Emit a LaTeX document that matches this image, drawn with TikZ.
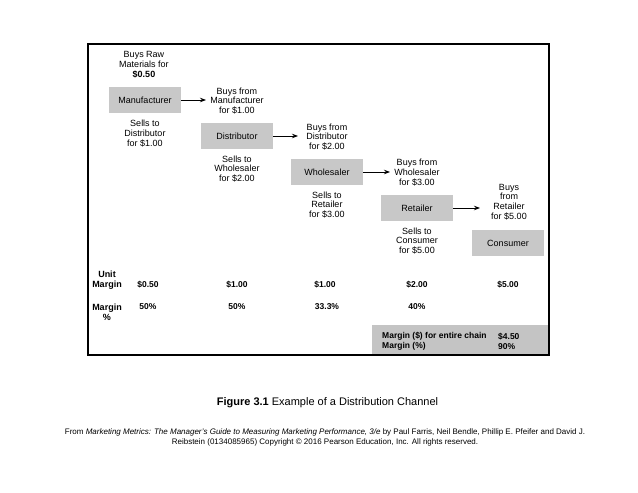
\documentclass[tikz,border=0pt]{standalone}
\usepackage{fontspec}
\setmainfont{Liberation Sans}
\usetikzlibrary{arrows.meta}

\definecolor{boxgray}{RGB}{200,200,200}
\definecolor{sumgray}{RGB}{196,196,196}
\tikzset{
chainbox/.style={rectangle,fill=boxgray,minimum width=72pt,minimum height=26pt,inner sep=0pt,font=\fontsize{9}{9.8}\selectfont},
note/.style={align=center,inner sep=0pt,font=\fontsize{9}{9.8}\selectfont},
rowlabel/.style={align=center,inner sep=0pt,font=\fontsize{9}{10}\selectfont\bfseries},
rowval/.style={inner sep=0pt,font=\fontsize{8.5}{10}\selectfont\bfseries},
flow/.style={-{Stealth[length=6pt,width=4.5pt]},line width=0.9pt}
}

\begin{document}
\begin{tikzpicture}[x=1pt,y=-1pt]
\useasboundingbox (0,0) rectangle (638,493);
% frame
\draw[line width=1.3pt] (88,44) rectangle (549,355);
\fill[sumgray] (372,325) rectangle (548.4,354.4);
% chain
\node[note](raw) at (144,65) {Buys Raw\\Materials for\\\textbf{\$0.50}};
\node[chainbox](mfr) at (145,100) {Manufacturer};
\node[note](sellmfr) at (145,133.5) {Sells to\\Distributor\\for \$1.00};
\node[note](buymfr) at (237,101) {Buys from\\Manufacturer\\for \$1.00};
\node[chainbox](dist) at (237,136) {Distributor};
\node[note](selldist) at (237,169) {Sells to\\Wholesaler\\for \$2.00};
\node[note](buydist) at (327,137) {Buys from\\Distributor\\for \$2.00};
\node[chainbox](whole) at (327,172) {Wholesaler};
\node[note](sellwhole) at (327,205) {Sells to\\Retailer\\for \$3.00};
\node[note](buywhole) at (417,172.5) {Buys from\\Wholesaler\\for \$3.00};
\node[chainbox](ret) at (417,208) {Retailer};
\node[note](sellret) at (417,241) {Sells to\\Consumer\\for \$5.00};
\node[note](buyret) at (509,202) {Buys\\from\\Retailer\\for \$5.00};
\node[chainbox](cons) at (508,243) {Consumer};
\coordinate (a1) at (206,100);
\coordinate (a2) at (298,136);
\coordinate (a3) at (390,172);
\coordinate (a4) at (480,208);
\draw[flow] (mfr)--(a1);
\draw[flow] (dist)--(a2);
\draw[flow] (whole)--(a3);
\draw[flow] (ret)--(a4);
% margins
\node[rowlabel](unit) at (107,280) {Unit\\Margin};
\node[rowval](u1) at (148,285) {\$0.50};
\node[rowval](u2) at (237,285) {\$1.00};
\node[rowval](u3) at (325,285) {\$1.00};
\node[rowval](u4) at (417,285) {\$2.00};
\node[rowval](u5) at (508,285) {\$5.00};
\node[rowlabel](pct) at (107,312) {Margin\\\%};
\node[rowval](p1) at (148,307) {50\%};
\node[rowval](p2) at (237,307) {50\%};
\node[rowval](p3) at (327,307) {33.3\%};
\node[rowval](p4) at (417,307) {40\%};
\node[rowval,align=left,anchor=west](tot) at (382,341) {Margin (\$) for entire chain\\Margin (\%)};
\node[rowval,align=left,anchor=west](totv) at (498,341) {\$4.50\\90\%};
% caption
\node[inner sep=0pt,font=\fontsize{11}{13}\selectfont](cap) at (327.5,403) {\textbf{Figure 3.1} Example of a Distribution Channel};
\node[align=center,inner sep=0pt,font=\fontsize{8}{9.2}\selectfont](src) at (325,437.5) {From \textit{Marketing Metrics: The Manager's Guide to Measuring Marketing Performance, 3/e} by Paul Farris, Neil Bendle, Phillip E. Pfeifer and David J.\\Reibstein (0134085965) Copyright \textcopyright{} 2016 Pearson Education, Inc. All rights reserved.};
\end{tikzpicture}
\end{document}
